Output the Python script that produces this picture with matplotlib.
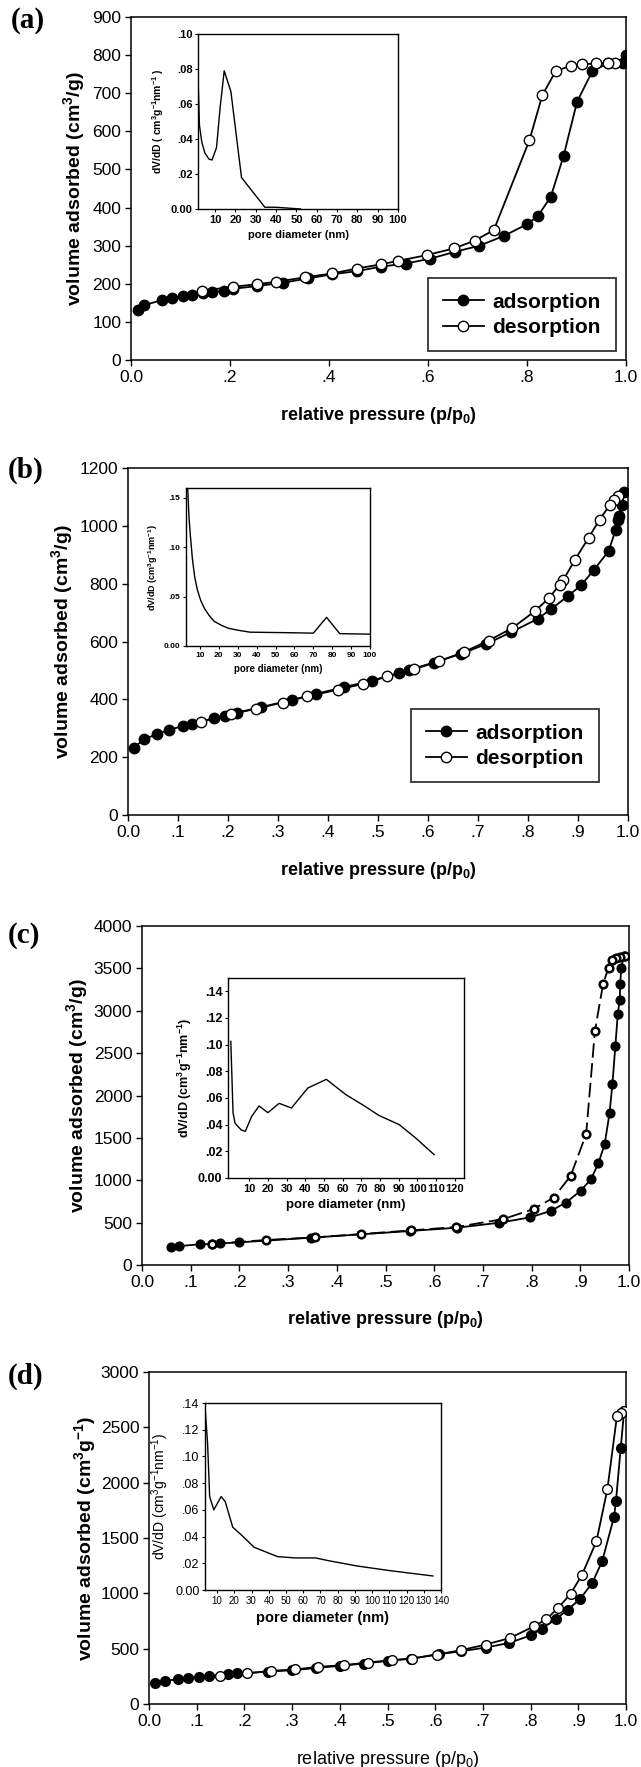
import matplotlib
matplotlib.use("Agg")
import matplotlib.pyplot as plt

plt.rcParams['font.family'] = ['Liberation Sans', 'DejaVu Sans']
plt.rcParams['mathtext.fontset'] = 'custom'
plt.rcParams['mathtext.rm'] = 'Liberation Sans'
plt.rcParams['mathtext.bf'] = 'Liberation Sans:bold'
plt.rcParams['mathtext.it'] = 'Liberation Sans:italic'

W, H = 641, 1767

# ---- panel (a) ----
a_ads_x = [0.014, 0.027, 0.062, 0.083, 0.105, 0.124, 0.145, 0.164, 0.187, 0.207, 0.255, 0.308, 0.358,
           0.406, 0.456, 0.505, 0.555, 0.605, 0.655, 0.704, 0.754, 0.801, 0.822, 0.848, 0.874, 0.901,
           0.932, 0.963, 0.994, 1.0]
a_ads_y = [131, 144, 157, 163, 168, 171, 176, 178, 182, 187, 194, 203, 214, 225, 233, 245, 253, 266,
           284, 300, 326, 357, 378, 428, 536, 677, 758, 778, 780, 801]
a_des_x = [0.978, 0.963, 0.940, 0.911, 0.888, 0.858, 0.831, 0.805, 0.733, 0.694, 0.653, 0.597, 0.539,
           0.505, 0.456, 0.406, 0.352, 0.292, 0.255, 0.206, 0.143]
a_des_y = [780, 778, 778, 776, 772, 758, 695, 577, 341, 313, 293, 275, 260, 251, 240, 227, 217, 205,
           199, 192, 182]
a_pore_x = [1.8, 2.3, 3.5, 5, 7, 8.5, 10.7, 12.5, 14.5, 17.8, 23, 34.5, 40, 52]
a_pore_y = [0.068, 0.048, 0.038, 0.032, 0.0285, 0.028, 0.035, 0.058, 0.079, 0.067, 0.018, 0.001,
            0.001, 0.0]

# ---- panel (b) ----
b_ads_x = [0.012, 0.032, 0.058, 0.082, 0.110, 0.127, 0.172, 0.194, 0.218, 0.266, 0.328, 0.376, 0.432,
           0.487, 0.541, 0.562, 0.611, 0.666, 0.716, 0.766, 0.819, 0.846, 0.879, 0.906, 0.931, 0.961,
           0.975, 0.980, 0.982, 0.988, 0.992]
b_ads_y = [233, 262, 280, 294, 308, 314, 335, 344, 354, 373, 398, 419, 442, 465, 490, 502, 527, 557,
           591, 632, 678, 712, 756, 794, 846, 912, 984, 1019, 1033, 1073, 1116]
b_des_x = [0.979, 0.972, 0.964, 0.943, 0.921, 0.894, 0.870, 0.863, 0.842, 0.813, 0.768, 0.721, 0.671,
           0.621, 0.572, 0.518, 0.469, 0.419, 0.358, 0.309, 0.255, 0.205, 0.146]
b_des_y = [1102, 1088, 1073, 1021, 958, 883, 811, 796, 750, 704, 646, 603, 563, 531, 504, 479, 453,
           433, 410, 389, 367, 348, 323]
b_pore_x = [3.2, 3.5, 4.2, 5, 6, 7.2, 8.6, 10.4, 12.4, 14.8, 17.5, 21.3, 25, 30, 36.5, 56, 70, 77, 84,
            100]
b_pore_y = [0.17, 0.16, 0.13, 0.110, 0.088, 0.070, 0.057, 0.046, 0.038, 0.031, 0.025, 0.021, 0.018,
            0.016, 0.014, 0.0135, 0.013, 0.029, 0.0125, 0.012]

# ---- panel (c) ----
c_ads_x = [0.059, 0.077, 0.120, 0.143, 0.161, 0.200, 0.346, 0.550, 0.647, 0.734, 0.797, 0.839, 0.870,
           0.901, 0.922, 0.937, 0.950, 0.960, 0.966, 0.972, 0.977, 0.981, 0.982, 0.984, 0.990]
c_ads_y = [216, 224, 244, 248, 255, 267, 322, 401, 440, 499, 562, 637, 735, 876, 1014, 1198, 1426,
           1788, 2141, 2585, 2967, 3132, 3312, 3509, 3645]
c_des_x = [0.992, 0.981, 0.973, 0.966, 0.958, 0.947, 0.930, 0.912, 0.880, 0.845, 0.804, 0.742, 0.645,
           0.553, 0.450, 0.355, 0.254, 0.143]
c_des_y = [3650, 3635, 3623, 3595, 3509, 3320, 2762, 1544, 1049, 794, 660, 542, 448, 409, 365, 326,
           295, 248]
c_pore_x = [0, 1.2, 2.3, 5.6, 7.8, 11.1, 15.1, 19.9, 25.9, 32.5, 41.3, 51.2, 61.7, 71.7, 79.3, 90.3,
            99.1, 109]
c_pore_y = [0.1025, 0.049, 0.041, 0.036, 0.035, 0.046, 0.054, 0.049, 0.056, 0.0525, 0.0675, 0.074,
            0.0625, 0.054, 0.047, 0.040, 0.030, 0.0175]

# ---- panel (d) ----
d_ads_x = [0.013, 0.034, 0.060, 0.082, 0.105, 0.126, 0.166, 0.185, 0.25, 0.30, 0.35, 0.40, 0.45, 0.50,
           0.55, 0.608, 0.655, 0.706, 0.755, 0.801, 0.824, 0.854, 0.878, 0.904, 0.929, 0.950, 0.975,
           0.979, 0.989, 0.996]
d_ads_y = [186, 210, 222, 237, 246, 255, 270, 276, 292, 305, 325, 345, 365, 390, 410, 450, 477, 510,
           552, 621, 681, 771, 852, 951, 1092, 1290, 1692, 1836, 2316, 2646]
d_des_x = [0.996, 0.990, 0.981, 0.961, 0.938, 0.908, 0.884, 0.858, 0.833, 0.807, 0.757, 0.706, 0.654,
           0.603, 0.552, 0.509, 0.459, 0.408, 0.354, 0.307, 0.256, 0.206, 0.148]
d_des_y = [2646, 2631, 2601, 1941, 1470, 1170, 996, 870, 765, 702, 597, 537, 486, 447, 411, 396, 375,
           351, 336, 312, 300, 276, 255]
d_pore_x = [3.0, 3.3, 4.5, 5.7, 8.1, 12.4, 14.8, 19.1, 24.3, 31.5, 45.1, 55.4, 67.3, 74.5, 91.2, 110.3,
            135.3]
d_pore_y = [0.138, 0.132, 0.110, 0.070, 0.060, 0.070, 0.066, 0.047, 0.041, 0.032, 0.025, 0.024,
            0.024, 0.022, 0.018, 0.0145, 0.0105]

# tick labels
x_ticks_a = [0, 0.2, 0.4, 0.6, 0.8, 1.0]
x_labels_a = ["0.0", ".2", ".4", ".6", ".8", "1.0"]
x_ticks_b = [0, .1, .2, .3, .4, .5, .6, .7, .8, .9, 1.0]
x_labels_b = ["0.0", ".1", ".2", ".3", ".4", ".5", ".6", ".7", ".8", ".9", "1.0"]


def rect(l, t, r, b):
    return [l / W, 1 - b / H, (r - l) / W, (b - t) / H]


fig = plt.figure(figsize=(W / 100, H / 100), dpi=100)


def main_axes(box, yticks, ylim, xticks, xlabels, ylabel, xlabel, xbold=True, ylab_off=60):
    ax = fig.add_axes(rect(*box))
    ax.set_xlim(0, 1.0)
    ax.set_ylim(*ylim)
    ax.set_xticks(xticks)
    ax.set_xticklabels(xlabels)
    ax.set_yticks(yticks)
    ax.set_yticklabels([str(v) for v in yticks])
    ax.tick_params(direction='out', length=4, width=1, labelsize=12.5, pad=3)
    for s in ax.spines.values():
        s.set_linewidth(1.1)
    hpx = box[3] - box[1]
    wpx = box[2] - box[0]
    ax.set_ylabel(ylabel, fontsize=14, fontweight='bold')
    ax.yaxis.set_label_coords(-ylab_off / wpx, 0.5)
    ax.yaxis.label.set_va('center')
    ax.set_xlabel(xlabel, fontsize=13, fontweight='bold' if xbold else 'normal')
    ax.xaxis.set_label_coords(0.5, -55 / hpx)
    ax.xaxis.label.set_va('center')
    return ax


def inset_axes(box, xlim, ylim, xticks, yticks, ylabels, ylabel, fs_tick, fs_lab, bold=True,
               fs_xtick=None):
    ax = fig.add_axes(rect(*box))
    ax.set_xlim(*xlim)
    ax.set_ylim(*ylim)
    ax.set_xticks(xticks)
    ax.set_xticklabels([str(v) for v in xticks])
    ax.set_yticks(yticks)
    ax.set_yticklabels(ylabels)
    w = 'bold' if bold else 'normal'
    ax.tick_params(direction='out', length=2, width=0.8, labelsize=fs_tick, pad=2)
    if fs_xtick:
        ax.tick_params(axis='x', labelsize=fs_xtick)
    for lab in ax.get_xticklabels() + ax.get_yticklabels():
        lab.set_fontweight(w)
    for s in ax.spines.values():
        s.set_linewidth(1.0)
    ax.set_xlabel("pore diameter (nm)", fontsize=fs_lab + 0.5, fontweight='bold', labelpad=4)
    ax.set_ylabel(ylabel, fontsize=fs_lab, fontweight=w, labelpad=3)
    return ax


def isotherm(ax, ax_x, ax_y, de_x, de_y, ms, mew=1.0, dashed=False):
    ax.plot(ax_x, ax_y, color='black', lw=1.3, marker='o', ms=ms, mfc='black', mec='black',
            mew=mew, label='adsorption', zorder=3)
    ax.plot(de_x, de_y, color='black', lw=1.3, ls=(0, (8, 3)) if dashed else '-', marker='o', ms=ms,
            mfc='white', mec='black', mew=mew, label='desorption', zorder=4)


def panel_label(txt, x, y):
    fig.text(x / W, 1 - y / H, txt, fontsize=21, fontweight='bold', family='Liberation Serif',
             ha='left', va='center')


def legend(ax, x, y):
    leg = ax.legend(loc='upper left', bbox_to_anchor=(x, y), frameon=True, fancybox=False,
                    edgecolor='black', fontsize=15, handlelength=2.0, borderpad=0.7,
                    labelspacing=0.3, handletextpad=0.4, borderaxespad=0)
    leg.get_frame().set_linewidth(1.3)
    for t in leg.get_texts():
        t.set_fontweight('bold')


# ---------------- (a) ----------------
axa = main_axes((131, 17, 626, 360), list(range(0, 901, 100)), (0, 900), x_ticks_a, x_labels_a,
                "volume adsorbed (cm$^\\mathbf{3}$/g)", "relative pressure (p/p$_\\mathbf{0}$)",
                ylab_off=57)
isotherm(axa, a_ads_x, a_ads_y, a_des_x, a_des_y, ms=7.5)
legend(axa, (428 - 131) / 495, (360 - 278) / 343)
panel_label("(a)", 11, 20)

ia = inset_axes((198, 34, 398, 209), (1.6, 100), (0, 0.10), list(range(10, 101, 10)),
                [0, .02, .04, .06, .08, .10], ["0.00", ".02", ".04", ".06", ".08", ".10"],
                "dV/dD ( cm$^\\mathbf{3}$g$^\\mathbf{-1}$nm$^\\mathbf{-1}$ )", 8, 7.5)
ia.plot(a_pore_x, a_pore_y, color='black', lw=1.0)

# ---------------- (b) ----------------
axb = main_axes((128, 468, 628, 815), list(range(0, 1201, 200)), (0, 1200), x_ticks_b, x_labels_b,
                "volume adsorbed (cm$^\\mathbf{3}$/g)", "relative pressure (p/p$_\\mathbf{0}$)",
                ylab_off=66)
isotherm(axb, b_ads_x, b_ads_y, b_des_x, b_des_y, ms=7.5)
legend(axb, (411 - 128) / 500, (815 - 709) / 347)
panel_label("(b)", 8, 470)

ib = inset_axes((186, 488, 370, 646), (2.6, 100), (0, 0.16), list(range(10, 101, 10)),
                [0, .05, .10, .15], ["0.00", ".05", ".10", ".15"],
                "dV/dD (cm$^\\mathbf{3}$g$^\\mathbf{-1}$nm$^\\mathbf{-1}$)", 6, 6.5)
ib.plot(b_pore_x, b_pore_y, color='black', lw=1.0, clip_on=True)

# ---------------- (c) ----------------
axc = main_axes((142, 926, 629, 1265), list(range(0, 4001, 500)), (0, 4000), x_ticks_b, x_labels_b,
                "volume adsorbed (cm$^\\mathbf{3}$/g)", "relative pressure (p/p$_\\mathbf{0}$)",
                ylab_off=65)
isotherm(axc, c_ads_x, c_ads_y, c_des_x, c_des_y, ms=5.5, mew=1.8, dashed=True)
panel_label("(c)", 8, 935)

ic = inset_axes((228, 978, 464, 1178), (-1.5, 125), (0, 0.15), list(range(10, 121, 10)),
                [0, .02, .04, .06, .08, .10, .12, .14],
                ["0.00", ".02", ".04", ".06", ".08", ".10", ".12", ".14"],
                "dV/dD (cm$^\\mathbf{3}$g$^\\mathbf{-1}$nm$^\\mathbf{-1}$)", 9, 9, fs_xtick=8)
ic.plot(c_pore_x, c_pore_y, color='black', lw=1.0)

# ---------------- (d) ----------------
axd = main_axes((149, 1372, 626, 1704), list(range(0, 3001, 500)), (0, 3000), x_ticks_b, x_labels_b,
                "volume adsorbed (cm$^\\mathbf{3}$g$^\\mathbf{-1}$)", "relative pressure (p/p$_\\mathrm{0}$)",
                xbold=False, ylab_off=64)
isotherm(axd, d_ads_x, d_ads_y, d_des_x, d_des_y, ms=7)
panel_label("(d)", 8, 1376)

idd = inset_axes((205, 1403, 441, 1590), (3, 140), (0, 0.14), list(range(10, 141, 10)),
                 [0, .02, .04, .06, .08, .10, .12, .14],
                 ["0.00", ".02", ".04", ".06", ".08", ".10", ".12", ".14"],
                 "dV/dD (cm$^\\mathrm{3}$g$^\\mathrm{-1}$nm$^\\mathrm{-1}$)", 9, 10, bold=False,
                 fs_xtick=7)
idd.plot(d_pore_x, d_pore_y, color='black', lw=1.0)

fig.savefig("out.png", dpi=100)
